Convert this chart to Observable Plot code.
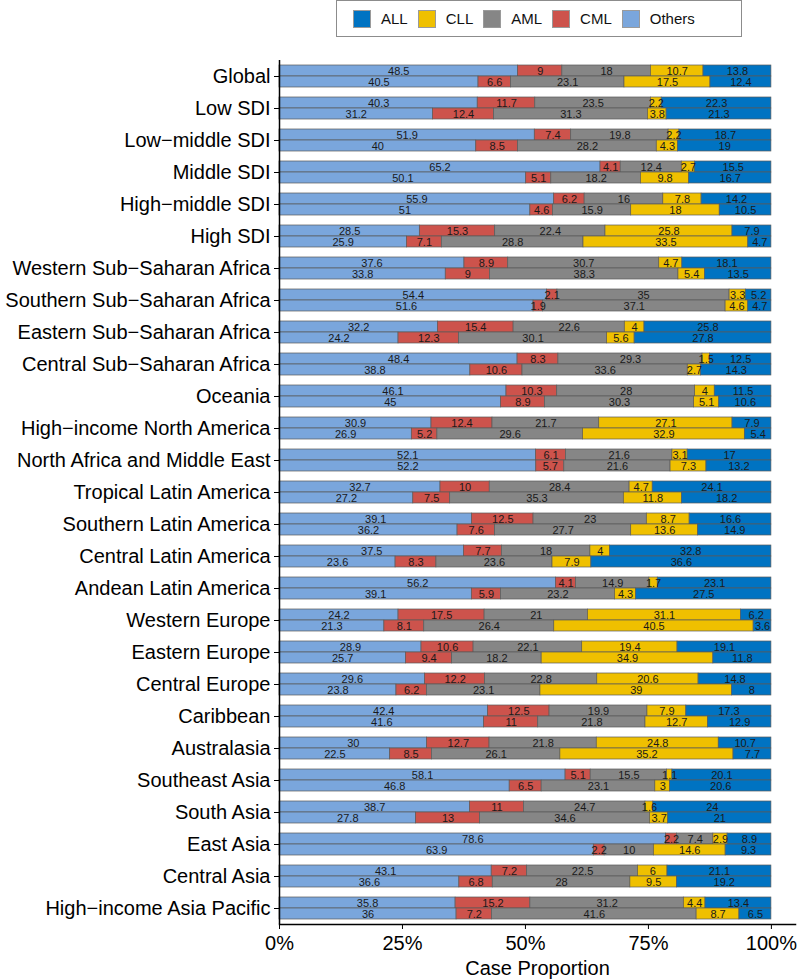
<!DOCTYPE html>
<html><head><meta charset="utf-8">
<script src="https://cdn.jsdelivr.net/npm/d3@7"></script>
<script src="https://cdn.jsdelivr.net/npm/@observablehq/plot@0.6"></script>
<style>
html,body{margin:0;padding:0;background:#fff;font-family:"Liberation Sans",Arial,Helvetica,sans-serif;}
#legend{margin-left:336px;width:406px;height:37px;border:1px solid #8c8c8c;box-sizing:border-box;display:flex;align-items:center;padding-left:16px;}
.item{display:flex;align-items:center;margin-right:10px;font-size:15px;color:#111;}
.sw{width:18px;height:18px;box-sizing:border-box;border:1px solid #9a9a9a;margin-right:10px;}
#chart{margin-top:3px;}
svg{display:block;}
</style></head>
<body>
<div id="legend"></div>
<div id="chart"></div>
<script>
const regions = ["Global","Low SDI","Low\u2212middle SDI","Middle SDI","High\u2212middle SDI","High SDI",
"Western Sub\u2212Saharan Africa","Southern Sub\u2212Saharan Africa","Eastern Sub\u2212Saharan Africa","Central Sub\u2212Saharan Africa",
"Oceania","High\u2212income North America","North Africa and Middle East","Tropical Latin America","Southern Latin America",
"Central Latin America","Andean Latin America","Western Europe","Eastern Europe","Central Europe","Caribbean","Australasia",
"Southeast Asia","South Asia","East Asia","Central Asia","High\u2212income Asia Pacific"];
const years = ["1990","2019"];
const types = ["Others","CML","AML","CLL","ALL"];
const legendOrder = ["ALL","CLL","AML","CML","Others"];
const colors = ["#7AA6DC","#CD534C","#868686","#EFC000","#0073C2"];
const xTicks = [0, 0.25, 0.5, 0.75, 1];

// 1990 (upper bar of each pair)
const others1990 = [48.5,40.3,51.9,65.2,55.9,28.5,37.6,54.4,32.2,48.4,46.1,30.9,52.1,32.7,39.1,37.5,56.2,24.2,28.9,29.6,42.4,30,58.1,38.7,78.6,43.1,35.8];
const cml1990    = [9,11.7,7.4,4.1,6.2,15.3,8.9,2.1,15.4,8.3,10.3,12.4,6.1,10,12.5,7.7,4.1,17.5,10.6,12.2,12.5,12.7,5.1,11,2.2,7.2,15.2];
const aml1990    = [18,23.5,19.8,12.4,16,22.4,30.7,35,22.6,29.3,28,21.7,21.6,28.4,23,18,14.9,21,22.1,22.8,19.9,21.8,15.5,24.7,7.4,22.5,31.2];
const cll1990    = [10.7,2.2,2.2,2.7,7.8,25.8,4.7,3.3,4,1.5,4,27.1,3.1,4.7,8.7,4,1.7,31.1,19.4,20.6,7.9,24.8,1.1,1.6,2.9,6,4.4];
const all1990    = [13.8,22.3,18.7,15.5,14.2,7.9,18.1,5.2,25.8,12.5,11.5,7.9,17,24.1,16.6,32.8,23.1,6.2,19.1,14.8,17.3,10.7,20.1,24,8.9,21.1,13.4];
// 2019 (lower bar of each pair)
const others2019 = [40.5,31.2,40,50.1,51,25.9,33.8,51.6,24.2,38.8,45,26.9,52.2,27.2,36.2,23.6,39.1,21.3,25.7,23.8,41.6,22.5,46.8,27.8,63.9,36.6,36];
const cml2019    = [6.6,12.4,8.5,5.1,4.6,7.1,9,1.9,12.3,10.6,8.9,5.2,5.7,7.5,7.6,8.3,5.9,8.1,9.4,6.2,11,8.5,6.5,13,2.2,6.8,7.2];
const aml2019    = [23.1,31.3,28.2,18.2,15.9,28.8,38.3,37.1,30.1,33.6,30.3,29.6,21.6,35.3,27.7,23.6,23.2,26.4,18.2,23.1,21.8,26.1,23.1,34.6,10,28,41.6];
const cll2019    = [17.5,3.8,4.3,9.8,18,33.5,5.4,4.6,5.6,2.7,5.1,32.9,7.3,11.8,13.6,7.9,4.3,40.5,34.9,39,12.7,35.2,3,3.7,14.6,9.5,8.7];
const all2019    = [12.4,21.3,19,16.7,10.5,4.7,13.5,4.7,27.8,14.3,10.6,5.4,13.2,18.2,14.9,36.6,27.5,3.6,11.8,8,12.9,7.7,20.6,21,9.3,19.2,6.5];

const series = {
  "1990": {Others: others1990, CML: cml1990, AML: aml1990, CLL: cll1990, ALL: all1990},
  "2019": {Others: others2019, CML: cml2019, AML: aml2019, CLL: cll2019, ALL: all2019}
};
const rows = [];
regions.forEach((region, i) => {
  years.forEach(year => {
    types.forEach(type => rows.push({region, year, type, value: series[year][type][i]}));
  });
});

// legend
const colorOf = Object.fromEntries(types.map((t, i) => [t, colors[i]]));
const leg = document.getElementById("legend");
legendOrder.forEach(t => {
  const it = document.createElement("div"); it.className = "item";
  const sw = document.createElement("div"); sw.className = "sw"; sw.style.background = colorOf[t];
  const tx = document.createElement("span"); tx.textContent = t;
  it.appendChild(sw); it.appendChild(tx); leg.appendChild(it);
});

const chart = Plot.plot({
  width: 797,
  height: 939,
  marginTop: 18,
  marginBottom: 53,
  marginLeft: 279,
  marginRight: 2,
  style: {fontFamily: '"Liberation Sans", Arial, Helvetica, sans-serif', background: "white", color: "black", overflow: "visible"},
  x: {domain: [0, 1.049]},
  y: {domain: years, paddingInner: 0, paddingOuter: 0.34, axis: null},
  fy: {domain: regions, paddingInner: 0, paddingOuter: 0, axis: null},
  color: {domain: types, range: colors},
  marks: [
    Plot.barX(rows, Plot.stackX({x: "value", y: "year", fy: "region", fill: "type", z: "type", order: types, offset: "normalize", stroke: "#5a5a5a", strokeWidth: 0.7})),
    Plot.text(rows, Plot.stackX({x: "value", y: "year", fy: "region", z: "type", order: types, offset: "normalize", text: d => String(d.value), fontSize: 11, fill: "#1a1a1a"})),
    Plot.axisFy({anchor: "left", tickSize: 5, tickPadding: 4, fontSize: 20, label: null}),
    Plot.axisX({anchor: "bottom", ticks: xTicks, tickFormat: d3.format(".0%"), tickSize: 5, tickPadding: 6, fontSize: 20, label: "Case Proportion", labelAnchor: "center", labelArrow: "none", labelOffset: 50}),
    Plot.ruleX([0], {strokeWidth: 1.5}),
    Plot.frame({anchor: "bottom", facetAnchor: "bottom", strokeWidth: 1.5})
  ]
});
document.getElementById("chart").appendChild(chart);
</script>
</body></html>
